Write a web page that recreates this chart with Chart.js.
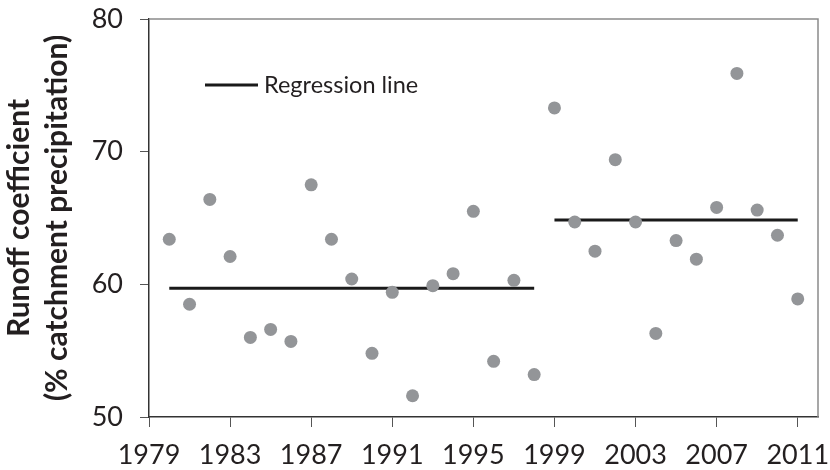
<!DOCTYPE html>
<html>
<head>
<meta charset="utf-8">
<script src="https://cdn.jsdelivr.net/npm/chart.js@4/dist/chart.umd.min.js"></script>
<style>
  html, body { margin: 0; padding: 0; background: #fff; }
  #wrap { width: 830px; height: 470px; }
</style>
</head>
<body>
<div id="wrap"><canvas id="runoffChart"></canvas></div>
<script>
// Data
const years = [1980, 1981, 1982, 1983, 1984, 1985, 1986, 1987, 1988, 1989, 1990,
               1991, 1992, 1993, 1994, 1995, 1996, 1997, 1998, 1999, 2000, 2001,
               2002, 2003, 2004, 2005, 2006, 2007, 2008, 2009, 2010, 2011];
const runoff = [63.4, 58.5, 66.4, 62.1, 56.0, 56.6, 55.7, 67.5, 63.4, 60.4, 54.8,
                59.4, 51.6, 59.9, 60.8, 65.5, 54.2, 60.3, 53.2, 73.3, 64.7, 62.5,
                69.4, 64.7, 56.3, 63.3, 61.9, 65.8, 75.9, 65.6, 63.7, 58.9];
const period1Years = [1980, 1998];
const period1Level = [59.7, 59.7];
const period2Years = [1999, 2011];
const period2Level = [64.85, 64.85];
const xTicks = [1979, 1983, 1987, 1991, 1995, 1999, 2003, 2007, 2011];
const yTicks = [50, 60, 70, 80];
const legendLabel = 'Regression line';
const yTitle = ['Runoff coefficient', '(% catchment precipitation)'];

const textColor = '#231f20';
const fontFamily = 'Lato, "Open Sans", sans-serif';

const toPoints = (xs, ys) => xs.map((x, i) => ({ x: x, y: ys[i] }));

// frame on top/right + legend inside plot
const framePlugin = {
    id: 'frame',
    afterDraw(chart) {
        const { ctx, chartArea: a } = chart;
        ctx.save();
        ctx.strokeStyle = '#8a8a8a';
        ctx.lineWidth = 1.5;
        ctx.beginPath();
        ctx.moveTo(a.left, a.top);
        ctx.lineTo(a.right, a.top);
        ctx.lineTo(a.right, a.bottom);
        ctx.stroke();

        // legend
        ctx.strokeStyle = '#1a1a1a';
        ctx.lineWidth = 3;
        ctx.beginPath();
        ctx.moveTo(205, 85);
        ctx.lineTo(258, 85);
        ctx.stroke();
        ctx.fillStyle = textColor;
        ctx.font = '23.5px ' + fontFamily;
        ctx.textBaseline = 'middle';
        ctx.fillText(legendLabel, 264, 85);
        ctx.restore();
    }
};

const ctx = document.getElementById('runoffChart').getContext('2d');
new Chart(ctx, {
    type: 'scatter',
    data: {
        datasets: [{
            label: 'Runoff coefficient',
            data: toPoints(years, runoff),
            backgroundColor: '#939598',
            borderWidth: 0,
            pointRadius: 6.5,
            pointHoverRadius: 6.5
        }, {
            type: 'line',
            label: legendLabel,
            data: toPoints(period1Years, period1Level),
            borderColor: '#1a1a1a',
            borderWidth: 3,
            pointRadius: 0
        }, {
            type: 'line',
            label: legendLabel,
            data: toPoints(period2Years, period2Level),
            borderColor: '#1a1a1a',
            borderWidth: 3,
            pointRadius: 0
        }]
    },
    options: {
        responsive: true,
        maintainAspectRatio: false,
        animation: false,
        layout: {
            padding: { top: 19, right: 12, left: 0, bottom: 0 }
        },
        plugins: {
            legend: { display: false },
            tooltip: { enabled: false }
        },
        scales: {
            x: {
                type: 'linear',
                min: 1979,
                max: 2012,
                afterBuildTicks: (scale) => {
                    scale.ticks = xTicks.map(v => ({ value: v }));
                },
                afterFit: (scale) => {
                    scale.height = 53;
                    scale.paddingLeft = 0;
                    scale.paddingRight = 0;
                },
                border: { color: '#333', width: 1.5 },
                grid: {
                    drawOnChartArea: false,
                    drawTicks: true,
                    tickLength: 10,
                    color: '#555'
                },
                ticks: {
                    color: textColor,
                    font: { family: fontFamily, size: 27 },
                    padding: 12,
                    maxRotation: 0,
                    autoSkip: false,
                    callback: (v) => String(v)
                }
            },
            y: {
                min: 50,
                max: 80,
                afterBuildTicks: (scale) => {
                    scale.ticks = yTicks.map(v => ({ value: v }));
                },
                afterFit: (scale) => {
                    scale.width = 149;
                    scale.paddingTop = 0;
                    scale.paddingBottom = 0;
                },
                border: { color: '#333', width: 1.5 },
                grid: {
                    drawOnChartArea: false,
                    drawTicks: true,
                    tickLength: 9,
                    color: '#555'
                },
                ticks: {
                    color: textColor,
                    font: { family: fontFamily, size: 27 },
                    padding: 17,
                    callback: (v) => String(v)
                },
                title: {
                    display: true,
                    text: yTitle,
                    color: textColor,
                    font: { family: fontFamily, size: 30, weight: 'bold', lineHeight: 1.27 },
                    padding: { top: 0, bottom: 0 }
                }
            }
        }
    },
    plugins: [framePlugin]
});
</script>
</body>
</html>
